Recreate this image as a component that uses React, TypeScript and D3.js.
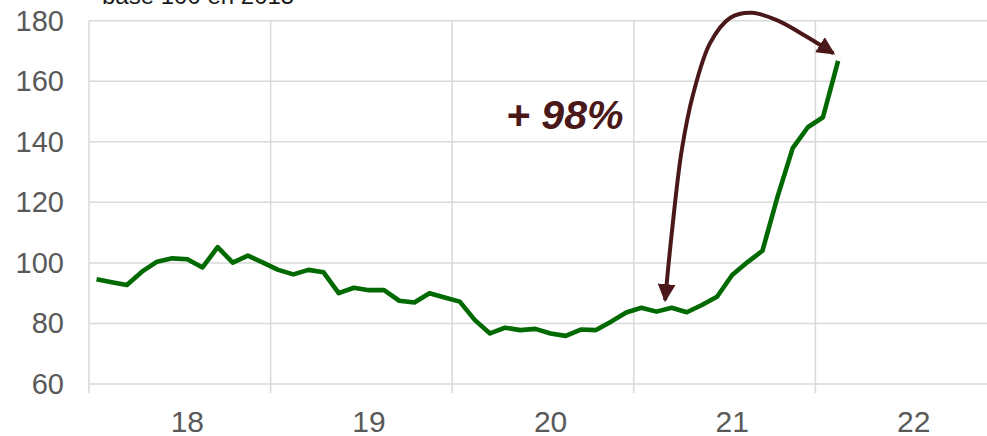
import React from "react";
import * as d3 from "d3";

const W = 987;
const H = 436;

const YEARS = ["18", "19", "20", "21", "22"];
const MONTHS_PER_YEAR = 12;
const Y_TICKS = [60, 80, 100, 120, 140, 160, 180];

// Monthly index, base 100 en 2015, Jan 2018 -> Feb 2022
const VALUES = [
  94.6, 93.6, 92.7, 97.1, 100.4, 101.5, 101.2, 98.5, 105.2, 100.1, 102.4, 100.1,
  97.7, 96.2, 97.7, 96.9, 90.0, 91.8, 91.0, 91.0, 87.5, 86.9, 90.0, 88.6,
  87.2, 81.1, 76.7, 78.6, 77.8, 78.2, 76.7, 75.9, 78.0, 77.8, 80.6, 83.6,
  85.2, 83.9, 85.2, 83.7, 86.1, 88.8, 96.0, 100.2, 104.0, 121.9, 137.9, 144.8,
  148.1, 166.7,
];

// Annotation arrow path, in data coordinates (month index, value)
const ARROW_I = [37.57, 38.01, 38.67, 39.44, 40.54, 41.86, 43.3, 44.95, 46.93, 48.69];
const ARROW_V = [87.7, 109.9, 137.3, 156.1, 172.6, 180.9, 182.6, 180.2, 174.7, 169.2];

const SUBTITLE = "base 100 en 2015";
const ANNOTATION = "+ 98%";

const FONT = "'Liberation Sans', Arial, Helvetica, sans-serif";
const GREEN = "#006a00";
const MAROON = "#4a1818";
const GRID = "#d9d9d9";
const LABEL = "#595959";

export default function App() {
  const months = d3.range(YEARS.length * MONTHS_PER_YEAR);
  const x = d3.scaleBand<number>().domain(months).range([89, 997]).padding(0);
  const bw = x.bandwidth();
  const xc = (i: number) => (x(0) as number) + (i + 0.5) * bw;
  const y = d3.scaleLinear().domain([60, 180]).range([384, 20.7]);

  const line = d3
    .line<number>()
    .x((_, i) => xc(i))
    .y((d) => y(d));

  const arrowPts: [number, number][] = ARROW_I.map((v, k) => [xc(v), y(ARROW_V[k])]);
  const arrowLine = d3.line().curve(d3.curveCatmullRom.alpha(0.5))(arrowPts) as string;

  const yearStarts = YEARS.map((_, k) => x(k * MONTHS_PER_YEAR) as number);
  const left = x(0) as number;

  return (
    <div style={{ position: "absolute", left: 0, top: 0 }}>
      <svg width={W} height={H} style={{ display: "block", background: "#fff" }}>
        <defs>
          <marker
            id="ah"
            markerUnits="userSpaceOnUse"
            viewBox="0 0 18 18"
            refX={16}
            refY={9}
            markerWidth={18}
            markerHeight={18}
            orient="auto-start-reverse"
          >
            <path d="M0,0 L18,9 L0,18 Z" fill={MAROON} />
          </marker>
        </defs>

        {/* horizontal gridlines */}
        {Y_TICKS.map((t) => (
          <line key={t} x1={left} x2={W} y1={y(t)} y2={y(t)} stroke={GRID} strokeWidth={1.5} />
        ))}
        {/* vertical gridlines + ticks */}
        {yearStarts.map((xs, k) => (
          <line
            key={k}
            x1={xs}
            x2={xs}
            y1={y(180)}
            y2={y(60) + 9}
            stroke={GRID}
            strokeWidth={1.5}
          />
        ))}

        {/* y labels */}
        {Y_TICKS.map((t) => (
          <text
            key={t}
            x={64}
            y={y(t) + 10}
            textAnchor="end"
            fontFamily={FONT}
            fontSize={29}
            fill={LABEL}
          >
            {t}
          </text>
        ))}
        {/* x labels */}
        {YEARS.map((yr, k) => (
          <text
            key={yr}
            x={xc(k * MONTHS_PER_YEAR + 6)}
            y={432}
            textAnchor="middle"
            fontFamily={FONT}
            fontSize={30}
            fill={LABEL}
          >
            {yr}
          </text>
        ))}

        {/* subtitle (partly cut) */}
        <text x={102} y={4} fontFamily={FONT} fontSize={24} fill="#1a1a1a">
          {SUBTITLE}
        </text>

        {/* series */}
        <path
          d={line(VALUES) as string}
          fill="none"
          stroke={GREEN}
          strokeWidth={4.6}
          strokeLinejoin="round"
          strokeLinecap="butt"
        />

        {/* annotation arrow */}
        <path
          d={arrowLine}
          fill="none"
          stroke={MAROON}
          strokeWidth={4}
          markerStart="url(#ah)"
          markerEnd="url(#ah)"
        />
        <text
          x={506}
          y={129}
          fontFamily={FONT}
          fontSize={41}
          fontWeight="bold"
          fontStyle="italic"
          fill={MAROON}
        >
          {ANNOTATION}
        </text>
      </svg>
    </div>
  );
}
